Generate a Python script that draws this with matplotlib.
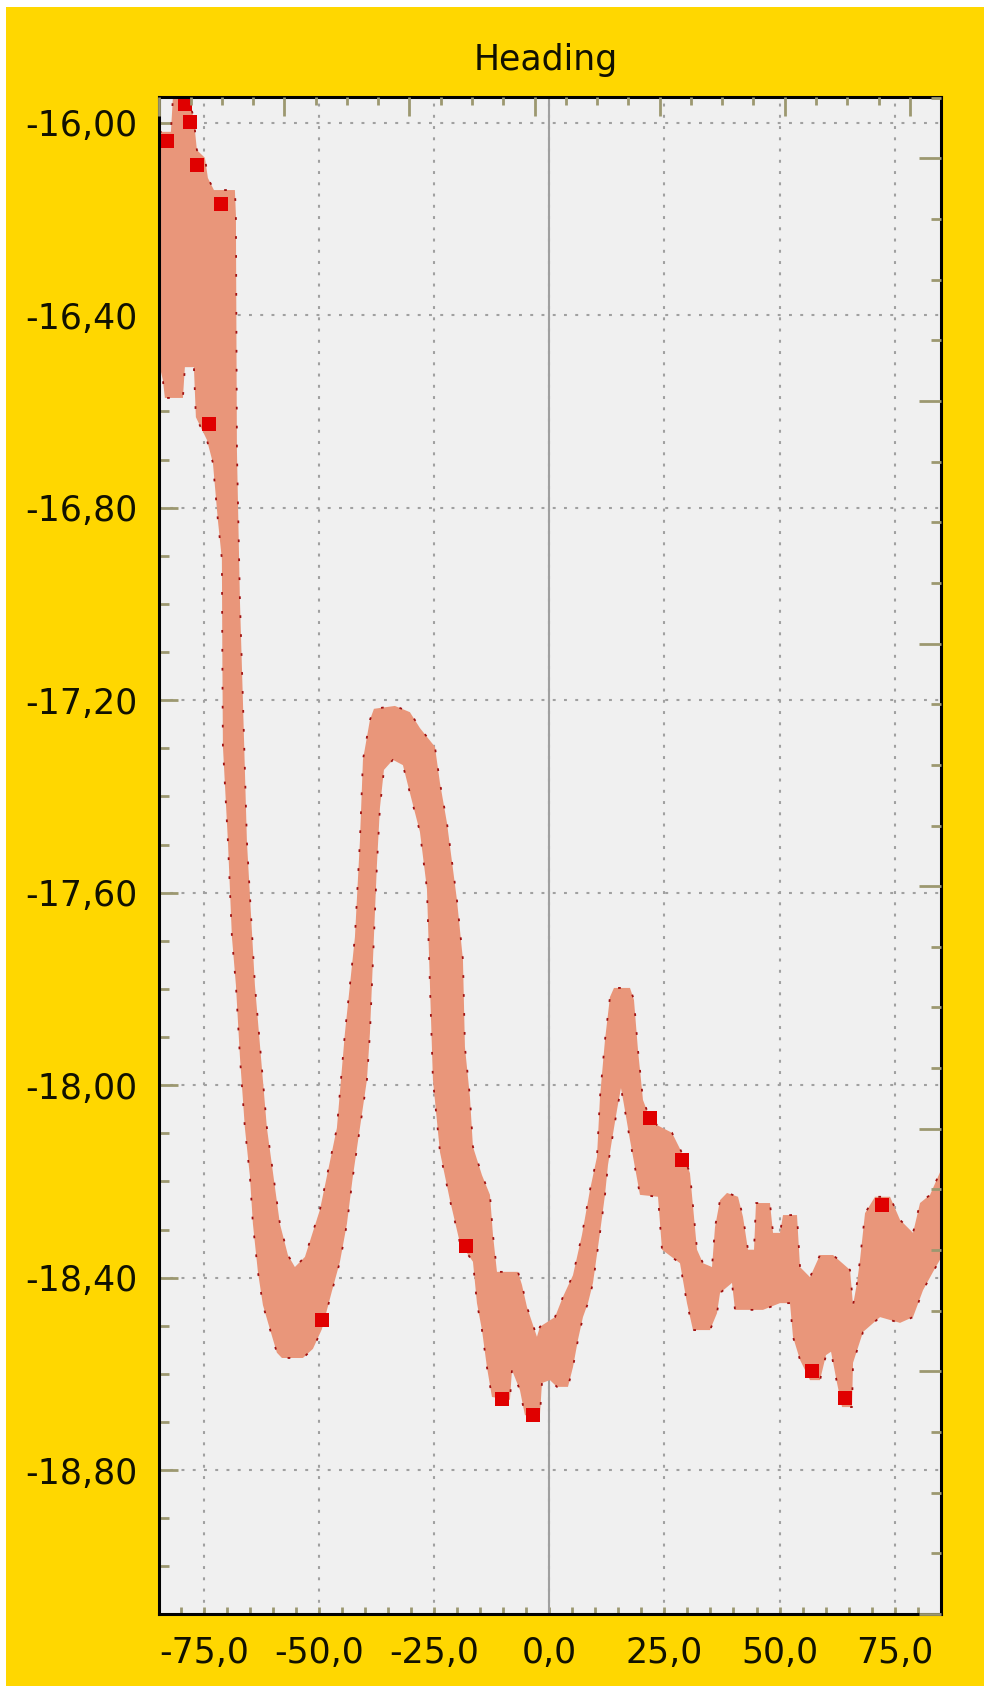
import numpy as np
import matplotlib
matplotlib.use("Agg")
import matplotlib.pyplot as plt
from matplotlib.ticker import MultipleLocator, FuncFormatter
from matplotlib.patches import Rectangle

# upper edge of the heading band (roll, heading)
roll_hi = [-84.89, -82.28, -81.85, -78.37, -77.28, -76.63, -74.89, -74.24, -72.93, -68.37,
           -68.15, -67.93, -67.28, -66.63, -65.76, -64.02, -61.41, -58.59, -56.85, -55.33,
           -53.15, -49.89, -46.20, -44.46, -42.28, -41.20, -40.54, -39.02, -38.15, -33.59,
           -30.33, -28.15, -24.89, -23.80, -22.28, -20.11, -18.80, -18.37, -17.28, -16.63,
           -14.67, -12.93, -12.28, -11.41, -6.85, -5.98, -4.89, -2.72, -2.07, 1.20,
           2.93, 5.11, 7.07, 8.80, 10.33, 10.98, 12.07, 13.15, 14.02, 17.50,
           18.37, 19.24, 20.33, 21.41, 23.37, 26.63, 29.02, 30.54, 32.07, 33.37,
           35.33, 35.98, 37.07, 38.59, 40.98, 42.07, 43.15, 44.46, 44.89, 47.93,
           48.59, 50.11, 50.76, 53.80, 54.46, 56.63, 58.80, 61.63, 65.33, 65.98,
           66.85, 67.50, 68.59, 70.76, 74.02, 76.20, 79.02, 80.54, 82.72, 85.11]
heading_hi = [-16.019, -16.019, -15.949, -15.947, -15.994, -16.057, -16.073, -16.115, -16.140, -16.140,
              -16.192, -16.680, -16.992, -17.200, -17.493, -17.792, -18.089, -18.288, -18.353, -18.378,
              -18.357, -18.259, -18.089, -17.892, -17.692, -17.493, -17.324, -17.241, -17.218, -17.212,
              -17.225, -17.258, -17.297, -17.372, -17.455, -17.615, -17.740, -17.921, -18.025, -18.128,
              -18.187, -18.228, -18.311, -18.388, -18.388, -18.415, -18.461, -18.523, -18.502, -18.482,
              -18.440, -18.395, -18.311, -18.218, -18.149, -18.025, -17.906, -17.817, -17.798, -17.798,
              -17.823, -17.927, -18.031, -18.058, -18.083, -18.099, -18.145, -18.183, -18.342, -18.370,
              -18.378, -18.295, -18.239, -18.224, -18.232, -18.274, -18.342, -18.342, -18.245, -18.245,
              -18.307, -18.307, -18.270, -18.270, -18.378, -18.399, -18.353, -18.353, -18.384, -18.457,
              -18.411, -18.363, -18.266, -18.232, -18.232, -18.280, -18.307, -18.245, -18.228, -18.176]

# lower edge of the heading band
roll_lo = [-84.89, -84.02, -83.59, -79.67, -79.24, -77.28, -76.85, -74.46, -73.15, -72.07,
           -71.20, -71.10, -70.98, -69.89, -69.02, -68.15, -67.28, -66.20, -65.11, -64.46,
           -63.37, -62.28, -60.76, -59.24, -58.15, -53.59, -51.41, -49.46, -47.28, -45.54,
           -44.02, -42.72, -41.20, -39.67, -39.02, -38.37, -37.50, -36.85, -35.98, -34.02,
           -31.85, -30.33, -28.15, -26.63, -25.98, -25.33, -23.80, -21.63, -19.46, -16.63,
           -15.76, -14.67, -13.59, -12.50, -8.59, -8.15, -6.41, -5.33, -2.07, -1.63,
           0.11, 1.63, 4.02, 5.11, 6.20, 7.28, 8.37, 9.46, 10.98, 12.07,
           12.72, 13.59, 14.67, 15.54, 16.20, 17.50, 19.67, 23.59, 24.46, 28.37,
           29.89, 31.20, 34.89, 36.41, 37.07, 39.67, 40.33, 46.41, 50.11, 52.28,
           52.93, 54.46, 56.63, 58.80, 60.11, 61.20, 62.50, 63.59, 65.76, 65.98,
           68.15, 71.85, 76.20, 79.02, 81.20, 83.37, 85.11]
heading_lo = [-16.499, -16.535, -16.572, -16.572, -16.508, -16.508, -16.612, -16.659, -16.707, -16.826,
              -16.907, -17.106, -17.295, -17.493, -17.692, -17.792, -17.941, -18.089, -18.189, -18.288,
              -18.388, -18.457, -18.507, -18.556, -18.567, -18.567, -18.548, -18.507, -18.428, -18.367,
              -18.288, -18.189, -18.089, -17.989, -17.892, -17.742, -17.542, -17.424, -17.345, -17.324,
              -17.335, -17.393, -17.474, -17.592, -17.792, -17.989, -18.139, -18.239, -18.328, -18.367,
              -18.453, -18.509, -18.586, -18.648, -18.654, -18.592, -18.634, -18.686, -18.686, -18.619,
              -18.613, -18.627, -18.627, -18.586, -18.529, -18.482, -18.453, -18.411, -18.307, -18.228,
              -18.166, -18.114, -18.052, -18.006, -18.041, -18.114, -18.228, -18.232, -18.342, -18.370,
              -18.453, -18.509, -18.509, -18.474, -18.432, -18.411, -18.467, -18.467, -18.453, -18.453,
              -18.523, -18.571, -18.613, -18.613, -18.561, -18.554, -18.619, -18.669, -18.669, -18.577,
              -18.513, -18.482, -18.494, -18.482, -18.426, -18.388, -18.359]

# raw samples that stick out of the band
red_roll = [-79.24, -78.15, -83.15, -76.63, -71.41, -74.02, -49.46, -18.15, -10.33, -3.59,
            21.85, 28.80, 57.07, 64.24, 72.28]
red_heading = [-15.961, -15.998, -16.038, -16.088, -16.169, -16.626, -18.488, -18.334, -18.652, -18.686,
               -18.068, -18.155, -18.594, -18.650, -18.249]

yellow = "#FFD700"
olive = "#9c9870"

fig = plt.figure(figsize=(9.84, 16.86), dpi=100, facecolor=yellow)
fig.patches.append(Rectangle((0, 1 - 7 / 1686), 1, 7 / 1686, transform=fig.transFigure,
                             facecolor="white", edgecolor="none"))
fig.patches.append(Rectangle((0, 0), 6 / 984, 1, transform=fig.transFigure,
                             facecolor="white", edgecolor="none"))

ax = fig.add_axes([0.1619, 0.0427, 0.7944, 0.89995])
ax.set_facecolor("#F0F0F0")
ax.set_xlim(-84.8, 85.1)
ax.set_ylim(-19.099, -15.946)

# band + raw points
ax.fill(np.concatenate([roll_hi, roll_lo[::-1]]), np.concatenate([heading_hi, heading_lo[::-1]]),
        color="#E9967A", lw=0, zorder=3)
ax.plot(roll_hi, heading_hi, color="#a01010", lw=1.3, dashes=(1.5, 9), zorder=4)
ax.plot(roll_lo, heading_lo, color="#a01010", lw=1.3, dashes=(1.5, 9), zorder=4)
ax.scatter(red_roll, red_heading, marker="s", s=110, color="#e00000", lw=0, zorder=5)

ax.axvline(0, color="#a0a0a0", lw=1.5, zorder=1)

ax.xaxis.set_major_locator(MultipleLocator(25))
ax.xaxis.set_minor_locator(MultipleLocator(5))
ax.yaxis.set_major_locator(MultipleLocator(0.4))
ax.yaxis.set_minor_locator(MultipleLocator(0.1))
ax.xaxis.set_major_formatter(FuncFormatter(lambda v, p: f"{v + 0.0:.1f}".replace(".", ",")))
ax.yaxis.set_major_formatter(FuncFormatter(lambda v, p: f"{v:.2f}".replace(".", ",")))

ax.grid(True, which="major", color="#a0a0a0", lw=1.5, dashes=(1.4, 4))
ax.set_axisbelow(True)

ax.tick_params(axis="y", which="major", direction="in", length=14, width=2, color=olive,
               labelsize=25, pad=16, labelcolor="#111100")
ax.tick_params(axis="y", which="minor", direction="in", length=7, width=2, color=olive)
ax.tick_params(axis="x", which="both", direction="in", length=5, width=2, color=olive,
               labelsize=25, pad=16, labelcolor="#111100")
for s in ax.spines.values():
    s.set_color("black")
    s.set_linewidth(2.2)
    s.set_zorder(6)

# extra tick scales on right and top
axr = ax.twinx()
axr.set_ylim(0, 6.254)
axr.yaxis.set_major_locator(MultipleLocator(1))
axr.yaxis.set_minor_locator(MultipleLocator(0.25))
axr.tick_params(axis="y", which="major", direction="in", length=16, width=2, color=olive, labelright=False)
axr.tick_params(axis="y", which="minor", direction="in", length=7, width=2, color=olive)
axt = ax.twiny()
axt.set_xlim(0, 6.249)
axt.xaxis.set_major_locator(MultipleLocator(1))
axt.xaxis.set_minor_locator(MultipleLocator(0.25))
axt.tick_params(axis="x", which="major", direction="in", length=14, width=2, color=olive, labeltop=False)
axt.tick_params(axis="x", which="minor", direction="in", length=6, width=2, color=olive)
for a in (axr, axt):
    for s in a.spines.values():
        s.set_visible(False)

fig.text(0.555, 1 - 70 / 1686, "Heading", ha="center", va="baseline", fontsize=25, color="#111100")

fig.savefig("out.png", dpi=100, facecolor=yellow)
